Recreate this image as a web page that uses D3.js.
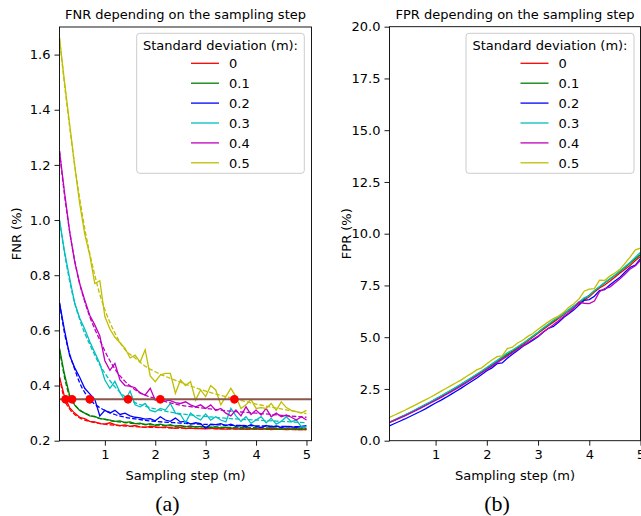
<!DOCTYPE html>
<html><head><meta charset="utf-8">
<script src="https://cdn.jsdelivr.net/npm/d3@7"></script>
<style>body{margin:0;background:#fff} text{font-family:"DejaVu Sans",sans-serif;fill:#000}</style>
</head><body><svg id="c" width="641" height="516"></svg>
<script>
// ---------- DATA ----------
const sigmas = ["0","0.1","0.2","0.3","0.4","0.5"];
const colors = ["#ff0000","#008000","#0000ff","#00bfbf","#bf00bf","#bfbf00"];
const steps = [0.1,0.2,0.3,0.4,0.5,0.6,0.7,0.8,0.9,1.0,1.1,1.2,1.3,1.4,1.5,1.6,1.7,1.8,1.9,2.0,2.1,2.2,2.3,2.4,2.5,2.6,2.7,2.8,2.9,3.0,3.1,3.2,3.3,3.4,3.5,3.6,3.7,3.8,3.9,4.0,4.1,4.2,4.3,4.4,4.5,4.6,4.7,4.8,4.9,5.0];
const fitSteps = [0.1,0.2,0.3,0.4,0.5,0.6,0.7,0.8,0.9,1.0,1.2,1.4,1.6,1.8,2.0,2.5,3.0,3.5,4.0,4.5,5.0];

const fnr0 = [0.43,0.36,0.32,0.30,0.285,0.28,0.27,0.268,0.262,0.26,0.265,0.258,0.255,0.257,0.252,0.255,0.25,0.248,0.252,0.25,0.248,0.25,0.247,0.245,0.248,0.244,0.246,0.244,0.245,0.243,0.246,0.243,0.244,0.242,0.244,0.242,0.243,0.241,0.243,0.242,0.241,0.243,0.24,0.242,0.241,0.24,0.242,0.24,0.241,0.24];
const fnr1 = [0.535,0.44,0.365,0.33,0.31,0.30,0.29,0.288,0.28,0.278,0.275,0.27,0.272,0.266,0.268,0.262,0.264,0.258,0.262,0.256,0.26,0.255,0.258,0.252,0.255,0.25,0.254,0.249,0.252,0.25,0.247,0.251,0.246,0.249,0.245,0.248,0.244,0.247,0.245,0.244,0.247,0.243,0.246,0.244,0.242,0.245,0.243,0.244,0.242,0.244];
const fnr2 = [0.70,0.60,0.51,0.465,0.43,0.39,0.37,0.35,0.29,0.31,0.30,0.31,0.295,0.30,0.29,0.285,0.283,0.278,0.28,0.272,0.287,0.275,0.27,0.282,0.268,0.27,0.26,0.265,0.262,0.245,0.26,0.258,0.262,0.255,0.26,0.252,0.255,0.25,0.258,0.252,0.248,0.255,0.25,0.253,0.248,0.252,0.25,0.248,0.252,0.255];
const fnr3 = [1.00,0.885,0.79,0.70,0.645,0.605,0.56,0.52,0.48,0.42,0.39,0.415,0.375,0.345,0.38,0.33,0.323,0.335,0.31,0.305,0.317,0.311,0.335,0.30,0.295,0.265,0.30,0.285,0.275,0.297,0.275,0.287,0.275,0.268,0.317,0.29,0.27,0.287,0.263,0.275,0.287,0.265,0.281,0.26,0.27,0.287,0.269,0.275,0.25,0.25];
const fnr4 = [1.25,1.10,0.96,0.85,0.77,0.71,0.655,0.62,0.58,0.49,0.455,0.48,0.42,0.40,0.398,0.392,0.372,0.366,0.39,0.347,0.353,0.347,0.345,0.338,0.335,0.341,0.33,0.323,0.33,0.317,0.33,0.31,0.317,0.30,0.29,0.311,0.29,0.323,0.295,0.311,0.293,0.317,0.287,0.30,0.287,0.293,0.285,0.275,0.287,0.275];
const fnr5 = [1.66,1.50,1.35,1.20,1.06,0.95,0.873,0.77,0.78,0.65,0.605,0.575,0.555,0.535,0.50,0.51,0.485,0.53,0.435,0.414,0.438,0.444,0.444,0.372,0.42,0.40,0.414,0.347,0.384,0.36,0.40,0.384,0.33,0.36,0.39,0.36,0.317,0.33,0.35,0.317,0.32,0.317,0.335,0.31,0.341,0.32,0.31,0.305,0.30,0.31];

const fit0 = [0.43,0.35,0.315,0.295,0.283,0.275,0.27,0.266,0.263,0.26,0.256,0.253,0.251,0.249,0.248,0.246,0.244,0.243,0.242,0.241,0.24];
const fit1 = [0.53,0.43,0.36,0.33,0.312,0.30,0.292,0.286,0.281,0.277,0.27,0.266,0.262,0.259,0.257,0.253,0.25,0.248,0.247,0.246,0.245];
const fit2 = [0.70,0.59,0.515,0.46,0.41,0.375,0.35,0.332,0.32,0.31,0.295,0.285,0.279,0.274,0.27,0.264,0.259,0.256,0.254,0.252,0.25];
const fit3 = [1.00,0.88,0.78,0.70,0.64,0.59,0.55,0.51,0.475,0.445,0.395,0.36,0.338,0.325,0.315,0.298,0.288,0.28,0.275,0.27,0.265];
const fit4 = [1.25,1.09,0.96,0.855,0.77,0.705,0.65,0.605,0.565,0.525,0.46,0.415,0.385,0.365,0.353,0.329,0.317,0.307,0.30,0.292,0.285];
const fit5 = [1.66,1.49,1.34,1.20,1.08,0.97,0.88,0.80,0.73,0.675,0.59,0.53,0.50,0.47,0.45,0.412,0.38,0.355,0.333,0.315,0.298];

const threshold = 0.35;
const crossSteps = [0.22,0.35,0.7,1.46,2.1,3.57];

const fpr0 = [0.88,0.99,1.11,1.22,1.34,1.46,1.59,1.72,1.85,1.98,2.12,2.26,2.40,2.54,2.69,2.85,3.02,3.16,3.32,3.48,3.64,3.80,3.97,4.13,4.30,4.47,4.64,4.83,5.01,5.19,5.37,5.55,5.72,5.90,6.08,6.27,6.45,6.62,6.80,6.95,7.18,7.38,7.52,7.70,7.90,8.10,8.28,8.48,8.70,8.90];
const fpr1 = [0.90,1.01,1.13,1.24,1.36,1.48,1.61,1.74,1.87,2.01,2.15,2.29,2.43,2.57,2.72,2.88,3.03,3.19,3.35,3.52,3.68,3.85,4.02,4.17,4.33,4.50,4.68,4.86,5.04,5.23,5.42,5.60,5.78,5.95,6.13,6.32,6.50,6.68,6.86,7.03,7.24,7.42,7.62,7.80,7.98,8.18,8.37,8.58,8.79,9.00];
const fpr2 = [0.72,0.83,0.94,1.05,1.17,1.29,1.41,1.54,1.68,1.82,1.95,2.09,2.24,2.39,2.54,2.70,2.86,3.02,3.20,3.38,3.52,3.72,3.76,3.98,4.18,4.36,4.55,4.70,4.86,5.02,5.24,5.43,5.52,5.72,5.95,6.13,6.32,6.55,6.78,6.82,6.98,7.25,7.30,7.52,7.72,7.90,8.15,8.38,8.48,8.80];
const fpr3 = [0.89,1.00,1.12,1.24,1.36,1.49,1.62,1.75,1.88,2.02,2.16,2.30,2.44,2.59,2.74,2.89,3.05,3.21,3.37,3.54,3.71,3.88,4.05,4.25,4.38,4.54,4.70,4.88,5.06,5.24,5.44,5.62,5.82,5.96,6.12,6.32,6.50,6.70,6.90,7.00,7.25,7.45,7.64,7.82,8.00,8.20,8.42,8.62,8.86,9.10];
const fpr4 = [0.88,0.98,1.09,1.20,1.32,1.44,1.56,1.69,1.82,1.95,2.08,2.22,2.36,2.50,2.65,2.80,2.96,3.12,3.28,3.44,3.60,3.77,3.93,4.08,4.25,4.42,4.58,4.74,4.90,5.05,5.25,5.42,5.60,5.80,6.00,6.18,6.40,6.70,6.64,6.62,6.75,7.20,7.35,7.42,7.62,7.82,8.05,8.30,8.45,8.72];
const fpr5 = [1.13,1.24,1.36,1.47,1.60,1.72,1.85,1.97,2.10,2.24,2.38,2.52,2.66,2.80,2.94,3.10,3.25,3.42,3.52,3.72,3.90,4.06,4.10,4.45,4.52,4.72,4.85,5.04,5.18,5.38,5.56,5.74,5.90,6.02,6.20,6.45,6.62,6.85,7.22,7.32,7.35,7.76,7.74,7.95,8.10,8.28,8.58,8.88,9.22,9.30];

const fnrTicksY = [0.2,0.4,0.6,0.8,1.0,1.2,1.4,1.6];
const fprTicksY = [0,2.5,5,7.5,10,12.5,15,17.5,20];
const ticksX = [1,2,3,4,5];

const fnrSeries = [fnr0,fnr1,fnr2,fnr3,fnr4,fnr5];
const fitSeries = [fit0,fit1,fit2,fit3,fit4,fit5];
const fprSeries = [fpr0,fpr1,fpr2,fpr3,fpr4,fpr5];

// ---------- DRAW ----------
const svg = d3.select("#c");
svg.append("rect").attr("width",641).attr("height",516).attr("fill","#fff");
const FS = 13;

function panel(opts){
  const {x0,x1,y0,y1,xdom,ydom,yticks,yfmt,title,ylabel,sub,id} = opts;
  const x = d3.scaleLinear().domain(xdom).range([x0,x1]);
  const y = d3.scaleLinear().domain(ydom).range([y1,y0]);
  const g = svg.append("g");
  g.append("clipPath").attr("id",id).append("rect")
    .attr("x",x0).attr("y",y0).attr("width",x1-x0).attr("height",y1-y0);
  const plot = g.append("g").attr("clip-path",`url(#${id})`);
  // axes
  const ax = g.append("g").attr("transform",`translate(0,${y1})`)
    .call(d3.axisBottom(x).tickValues(ticksX).tickFormat(d3.format("d")).tickSize(5).tickPadding(4));
  const ay = g.append("g").attr("transform",`translate(${x0},0)`)
    .call(d3.axisLeft(y).tickValues(yticks).tickFormat(d3.format(yfmt)).tickSize(5).tickPadding(4));
  [ax,ay].forEach(a=>{a.select(".domain").remove();
    a.selectAll("text").attr("font-size",FS).attr("font-family","DejaVu Sans").attr("fill","#000");
    a.selectAll("line").attr("stroke","#000").attr("stroke-width",0.9);});
  g.append("rect").attr("x",x0).attr("y",y0).attr("width",x1-x0).attr("height",y1-y0)
    .attr("fill","none").attr("stroke","#000").attr("stroke-width",0.9);
  g.append("text").attr("x",(x0+x1)/2).attr("y",y0-8).attr("text-anchor","middle")
    .attr("font-size",FS).text(title);
  g.append("text").attr("transform",`translate(${x0-39},${(y0+y1)/2}) rotate(-90)`)
    .attr("text-anchor","middle").attr("font-size",FS).text(ylabel);
  g.append("text").attr("x",(x0+x1)/2).attr("y",y1+39).attr("text-anchor","middle")
    .attr("font-size",FS).text("Sampling step (m)");
  g.append("text").attr("x",(x0+x1)/2 - 18).attr("y",y1+70).attr("text-anchor","middle")
    .attr("font-size",22).style("font-family","'Liberation Serif','Times New Roman',serif").text(sub);
  return {x,y,plot,g};
}

function legend(g, lx0, lx1, ly0, ly1){
  const box = g.append("g");
  box.append("rect").attr("x",lx0).attr("y",ly0).attr("width",lx1-lx0).attr("height",ly1-ly0)
    .attr("rx",3).attr("fill","#fff").attr("fill-opacity",0.8).attr("stroke","#cccccc").attr("stroke-width",1);
  const cx = (lx0+lx1)/2;
  box.append("text").attr("x",cx).attr("y",ly0+16.5).attr("text-anchor","middle").attr("font-size",FS)
    .text("Standard deviation (m):");
  sigmas.forEach((s,i)=>{
    const yy = ly0 + 30 + i*19.9;
    box.append("line").attr("x1",cx-29.5).attr("x2",cx-1.5).attr("y1",yy).attr("y2",yy)
      .attr("stroke",colors[i]).attr("stroke-width",1.3);
    box.append("text").attr("x",cx+8.5).attr("y",yy+4.7).attr("font-size",FS).text(s);
  });
}

// Left panel: FNR
const L = panel({x0:59.5,x1:311.5,y0:27,y1:440.7,xdom:[0.1,5.1],ydom:[0.2,1.7],yticks:fnrTicksY,yfmt:".1f",
  title:"FNR depending on the sampling step",ylabel:"FNR (%)",sub:"(a)",id:"clipL"});
const lineL = d3.line().x((d,i)=>L.x(steps[i])).y(d=>L.y(d));
const fitL = d3.line().x((d,i)=>L.x(fitSteps[i])).y(d=>L.y(d)).curve(d3.curveMonotoneX);
fnrSeries.forEach((s,i)=>{
  L.plot.append("path").attr("d",lineL(s)).attr("fill","none").attr("stroke",colors[i]).attr("stroke-width",1.3);
  L.plot.append("path").attr("d",fitL(fitSeries[i])).attr("fill","none").attr("stroke",colors[i])
    .attr("stroke-width",1.3).attr("stroke-dasharray","4.5,2");
});
L.plot.append("line").attr("x1",L.x(0.1)).attr("x2",L.x(5.1)).attr("y1",L.y(threshold)).attr("y2",L.y(threshold))
  .attr("stroke","#8c564b").attr("stroke-width",2);
L.plot.selectAll("circle.cross").data(crossSteps).enter().append("circle")
  .attr("cx",d=>L.x(d)).attr("cy",L.y(threshold)).attr("r",4.3).attr("fill","#ff0000");
legend(L.g, 136.7, 304.3, 33.3, 173.3);

// Right panel: FPR
const R = panel({x0:389.5,x1:640.5,y0:26.7,y1:440.7,xdom:[0.1,5.0],ydom:[0,20],yticks:fprTicksY,yfmt:".1f",
  title:"FPR depending on the sampling step",ylabel:"FPR (%)",sub:"(b)",id:"clipR"});
const lineR = d3.line().x((d,i)=>R.x(steps[i])).y(d=>R.y(d));
fprSeries.forEach((s,i)=>{
  R.plot.append("path").attr("d",lineR(s)).attr("fill","none").attr("stroke",colors[i]).attr("stroke-width",1.3);
});
legend(R.g, 466, 634, 33.3, 173.3);
</script></body></html>
